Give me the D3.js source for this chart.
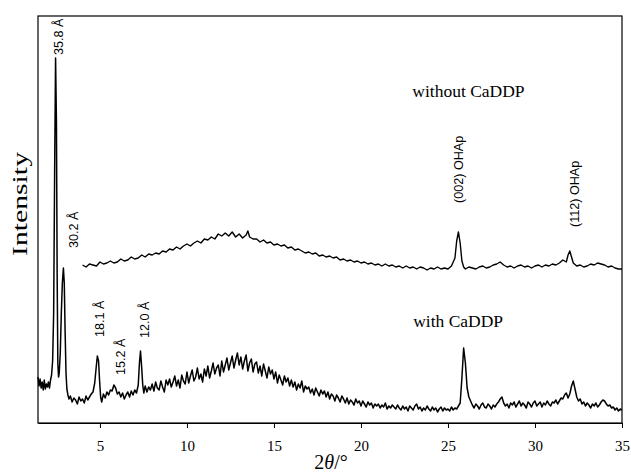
<!DOCTYPE html>
<html>
<head>
<meta charset="utf-8">
<script src="https://cdn.jsdelivr.net/npm/d3@7"></script>
<style>
  body { margin: 0; background: #fff; }
  svg { display: block; }
</style>
</head>
<body>
<div id="xrd"></div>
<script>
// 2theta (deg) and intensity (a.u.)
const withTheta = [1.44,1.5,1.56,1.62,1.68,1.74,1.8,1.86,1.92,1.98,2.04,2.1,2.16,2.22,2.28,2.34,2.4,2.45,2.5,2.54,2.58,2.62,2.66,2.72,2.78,2.84,2.9,2.95,3.0,3.05,3.1,3.16,3.22,3.3,3.4,3.5,3.6,3.7,3.8,3.9,4.0,4.1,4.2,4.3,4.4,4.5,4.6,4.7,4.78,4.85,4.92,4.98,5.04,5.1,5.2,5.3,5.4,5.5,5.6,5.7,5.8,5.9,6.0,6.1,6.2,6.3,6.4,6.5,6.6,6.7,6.8,6.9,7.0,7.1,7.2,7.27,7.33,7.4,7.46,7.52,
  7.6,7.7,7.8,7.9,8.0,8.1,8.2,8.3,8.4,8.5,8.6,8.7,8.8,8.9,9.0,9.1,9.2,9.3,9.4,9.5,9.6,9.7,9.8,9.9,10.0,10.1,10.2,10.3,10.4,10.5,10.6,10.7,10.8,10.9,11.0,11.1,11.2,11.3,11.4,11.5,11.6,11.7,11.8,11.9,12.0,12.1,12.2,12.3,12.4,12.5,12.6,12.7,12.8,12.9,13.0,13.1,13.2,13.3,13.4,13.5,13.6,13.7,13.8,13.9,14.0,14.1,14.2,14.3,14.4,14.5,14.6,14.7,14.8,14.9,15.0,15.1,15.2,15.3,15.4,15.5,15.6,15.7,15.8,15.9,16.0,16.1,16.2,16.3,16.4,16.5,16.6,16.7,16.8,16.9,17.0,17.1,17.2,17.3,17.4,17.5,17.6,17.7,17.8,17.9,18.0,18.1,18.2,18.3,18.4,18.5,18.6,18.7,18.8,18.9,19.0,19.1,19.2,19.3,19.4,19.5,19.6,19.7,19.8,19.9,20.0,20.1,20.2,20.3,20.4,20.5,20.6,20.7,20.8,20.9,21.0,21.1,21.2,21.3,21.4,21.5,21.6,21.7,21.8,21.9,22.0,22.1,22.2,22.3,22.4,22.5,22.6,22.7,22.8,22.9,23.0,23.1,23.2,23.3,23.4,23.5,23.6,23.7,23.8,23.9,24.0,24.1,24.2,24.3,24.4,24.5,24.6,24.7,24.8,24.9,25.0,25.1,25.2,25.3,25.4,25.5,25.6,
  25.7,25.8,25.9,26.0,26.1,26.2,26.3,26.4,26.5,26.6,26.7,26.8,26.9,27.0,27.1,27.2,27.3,27.4,27.5,27.6,27.7,27.8,27.9,28.0,28.1,28.2,28.3,28.4,28.5,28.6,28.7,28.8,28.9,29.0,29.1,29.2,29.3,29.4,29.5,29.6,29.7,29.8,29.9,30.0,30.1,30.2,30.3,30.4,30.5,30.6,30.7,30.8,30.9,31.0,31.1,31.2,31.3,31.4,31.5,31.6,31.7,31.8,31.9,32.0,32.1,32.2,32.3,32.4,32.5,32.6,32.7,32.8,32.9,33.0,33.1,33.2,33.3,33.4,33.5,33.6,33.7,33.8,33.9,34.0,34.1,34.2,34.3,34.4,34.5,34.6,34.7,34.8,34.9,35.0];
const withIntensity = [46,37,44,35,41,33,43,34,39,36,41,35,43,48,62,110,260,365,300,150,60,46,50,70,110,140,155,140,90,50,34,28,24,27,21,25,23,19,26,22,24,20,27,23,26,29,31,40,55,67,62,42,26,21,29,25,31,28,33,32,38,35,29,31,26,30,24,28,31,26,32,28,33,30,38,60,72,55,38,30,
  37,31,36,33,39,32,41,35,33,42,36,31,43,38,44,36,41,47,37,43,35,48,42,39,51,40,47,53,42,46,55,44,49,41,54,47,57,45,52,60,49,55,58,47,62,51,58,65,53,60,67,55,63,70,58,66,54,62,68,52,60,64,51,59,61,50,57,47,59,52,45,56,49,53,44,51,40,48,43,38,47,41,45,37,43,36,41,33,39,35,42,31,37,34,36,30,34,28,35,31,27,33,29,32,26,31,24,29,27,22,28,25,21,27,24,20,25,19,23,21,18,24,20,22,17,22,19,16,21,18,20,15,19,17,19,15,18,16,20,14,17,15,18,16,14,18,15,13,17,14,16,12,17,15,13,17,19,14,16,12,15,13,17,14,12,16,13,15,11,14,16,12,15,13,14,12,16,13,15,14,17,
  20,45,75,60,35,26,22,18,15,19,17,14,18,20,16,15,19,17,14,18,16,19,21,24,26,20,17,19,15,20,18,21,16,19,22,17,20,18,15,21,19,16,20,22,17,19,21,16,20,18,22,19,17,21,20,23,19,22,25,24,28,30,25,29,37,42,34,26,22,24,19,21,17,20,18,15,19,17,20,16,18,21,23,22,19,17,18,15,16,13,15,12,14,13];

const withoutTheta = [4.0,4.2,4.4,4.6,4.8,5.0,5.2,5.4,5.6,5.8,6.0,6.2,6.4,6.6,6.8,7.0,7.2,7.4,7.6,7.8,8.0,8.2,8.4,8.6,8.8,9.0,9.2,9.4,9.6,9.8,10.0,10.2,10.4,10.6,10.8,11.0,11.2,11.4,11.6,11.8,12.0,12.2,12.4,12.6,12.8,13.0,13.2,13.4,13.5,13.6,13.8,14.0,14.2,14.4,14.6,14.8,15.0,15.2,15.4,15.6,15.8,16.0,16.2,16.4,16.6,16.8,17.0,17.2,17.4,17.6,17.8,18.0,18.2,18.4,18.6,18.8,19.0,19.2,19.4,19.6,19.8,20.0,20.2,20.4,20.6,20.8,21.0,21.2,21.4,21.6,21.8,22.0,22.2,22.4,22.6,22.8,23.0,23.2,23.4,23.6,23.8,24.0,24.2,24.4,24.6,24.8,25.0,25.2,25.4,25.5,25.6,25.7,25.8,25.9,26.0,26.2,26.4,26.6,26.8,27.0,27.2,27.4,27.6,27.8,28.0,28.2,28.4,28.6,28.8,29.0,29.2,29.4,29.6,29.8,30.0,30.2,30.4,30.6,30.8,31.0,31.2,31.4,31.6,31.8,31.9,32.0,32.1,32.2,32.4,32.6,32.8,33.0,33.2,33.4,33.6,33.8,34.0,34.2,34.4,34.6,34.8,35.0];
const withoutIntensity = [158,156,159,158,157,161,159,160,162,160,161,164,162,163,166,164,165,168,166,169,168,170,169,172,171,174,173,176,174,177,179,177,180,182,180,184,183,186,184,189,187,190,187,191,186,189,185,188,192,186,184,184,181,183,180,181,178,179,177,178,175,176,173,174,172,170,171,169,170,167,168,166,167,165,166,163,164,162,163,161,162,160,161,159,160,158,159,157,159,157,158,156,157,155,157,155,156,154,156,155,153,155,154,156,154,155,154,157,165,182,191,180,162,156,154,156,155,154,156,157,155,156,158,159,161,158,156,157,155,157,158,156,157,155,157,158,156,158,157,159,158,160,163,161,168,172,166,160,157,158,156,157,159,158,160,159,158,156,157,155,154,154];

const xTicks = [5, 10, 15, 20, 25, 30, 35];

// peak annotations: label, 2theta where the label sits, intensity of its lower end
const peakLabels = ['35.8 Å', '30.2 Å', '18.1 Å', '15.2 Å', '12.0 Å', '(002) OHAp', '(112) OHAp'];
const peakTheta = [2.88, 3.72, 5.22, 6.46, 7.82, 25.87, 32.52];
const peakLabelY = [368, 175, 86, 48, 85, 220, 196];

const traceNames = ['without CaDDP', 'with CaDDP'];
const traceNameTheta = [22.95, 23.0];
const traceNameY = [326, 96];

const width = 631, height = 474;
const margin = { top: 16, right: 9, bottom: 51, left: 38 };

const x = d3.scaleLinear()
  .domain([1.44, 35])
  .range([margin.left, width - margin.right]);

const y = d3.scaleLinear()
  .domain([0, 407])
  .range([height - margin.bottom, margin.top]);

const svg = d3.select('#xrd')
  .append('svg')
  .attr('width', width)
  .attr('height', height)
  .attr('viewBox', [0, 0, width, height].join(' '));

// frame
svg.append('rect')
  .attr('x', margin.left)
  .attr('y', margin.top)
  .attr('width', width - margin.left - margin.right)
  .attr('height', height - margin.top - margin.bottom)
  .attr('fill', 'none')
  .attr('stroke', '#000')
  .attr('stroke-width', 1.2);

let xAxis = g => g
  .attr('transform', `translate(0,${height - margin.bottom})`)
  .call(d3.axisBottom(x).tickValues(xTicks).tickSize(5).tickSizeOuter(0).tickPadding(12))
  .call(g => g.select('.domain').attr('stroke-width', 1.2))
  .call(g => g.selectAll('.tick text')
    .attr('font-family', '"Liberation Serif", "Times New Roman", serif')
    .attr('font-size', 15)
    .attr('fill', '#000'));

svg.append('g').call(xAxis);

svg.append('text')
  .attr('x', 331)
  .attr('y', 469)
  .attr('text-anchor', 'middle')
  .attr('font-family', '"Liberation Serif", "Times New Roman", serif')
  .attr('font-size', 20)
  .html('2<tspan font-style="italic">θ</tspan>/°');

svg.append('text')
  .attr('transform', 'translate(27,204) rotate(-90)')
  .attr('text-anchor', 'middle')
  .attr('font-family', '"Liberation Serif", "Times New Roman", serif')
  .attr('font-size', 22)
  .attr('textLength', 104)
  .attr('lengthAdjust', 'spacingAndGlyphs')
  .text('Intensity');

const line = d3.line()
  .x(d => x(d[0]))
  .y(d => y(d[1]));

const withData = withTheta.map((t, i) => [t, withIntensity[i]]);
const withoutData = withoutTheta.map((t, i) => [t, withoutIntensity[i]]);

svg.append('path')
  .datum(withoutData)
  .attr('fill', 'none')
  .attr('stroke', '#000')
  .attr('stroke-width', 1.4)
  .attr('stroke-linejoin', 'round')
  .attr('d', line);

svg.append('path')
  .datum(withData)
  .attr('fill', 'none')
  .attr('stroke', '#000')
  .attr('stroke-width', 1.5)
  .attr('stroke-linejoin', 'round')
  .attr('d', line);

// rotated peak labels
svg.selectAll('.peak')
  .data(peakLabels)
  .join('text')
  .attr('class', 'peak')
  .attr('transform', (d, i) => `translate(${x(peakTheta[i])},${y(peakLabelY[i])}) rotate(-90)`)
  .attr('font-family', '"Liberation Sans", Arial, sans-serif')
  .attr('font-size', 12.6)
  .text(d => d);

svg.selectAll('.trace-name')
  .data(traceNames)
  .join('text')
  .attr('class', 'trace-name')
  .attr('x', (d, i) => x(traceNameTheta[i]))
  .attr('y', (d, i) => y(traceNameY[i]))
  .attr('font-family', '"Liberation Serif", "Times New Roman", serif')
  .attr('font-size', 17.5)
  .text(d => d);
</script>
</body>
</html>
